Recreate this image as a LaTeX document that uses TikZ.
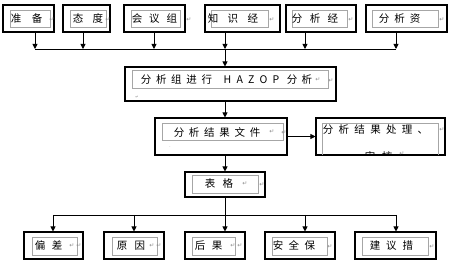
\documentclass[tikz,border=0pt]{standalone}
\usepackage{fontspec}
\setmainfont{Noto Sans CJK SC}
\newfontfamily\symf{DejaVu Sans}
\usetikzlibrary{arrows.meta}
\newcommand\gp[1]{\hspace{#1pt}}
\begin{document}
\begin{tikzpicture}[x=1pt,y=-1pt,
  obox/.style={draw=black, line width=1.05pt, inner sep=0pt},
  ibox/.style={draw=black!35, line width=0.8pt},
  txt/.style={inner sep=0pt, font=\fontsize{10.5}{12}\selectfont},
  pm/.style={inner sep=0pt, text=black!45, font=\symf\fontsize{6}{7}\selectfont},
  arr/.style={-{Triangle[length=5pt,width=5pt]}, line width=0.9pt},
  ln/.style={line width=0.9pt}]
\useasboundingbox (0,0) rectangle (450,261);
% ---------- top row ----------
\node[obox, minimum width=51, minimum height=27] (a1) at (28.5,18.5) {};
\node[obox, minimum width=47, minimum height=27] (a2) at (86.5,18.5) {};
\node[obox, minimum width=61, minimum height=27] (a3) at (154.5,18.5) {};
\node[obox, minimum width=75, minimum height=27] (a4) at (242.5,18.5) {};
\node[obox, minimum width=70, minimum height=27] (a5) at (321,18.5) {};
\node[obox, minimum width=81, minimum height=27] (a6) at (406.5,18.5) {};
\draw[ibox] (10,10) rectangle (50,27);
\draw[ibox] (70,10) rectangle (106,27);
\draw[ibox] (131,10) rectangle (180,27);
\draw[ibox] (211,10) rectangle (268,27);
\draw[ibox] (292,10) rectangle (347,27);
\draw[ibox] (372,10) rectangle (438,27);
\node[txt] (t1) at (26.5,18.5) {准\gp{10.5}备};
\node[txt] (t2) at (88,18.5) {态\gp{9.5}度};
\node[txt] (t3) at (154.5,18.5) {会\gp{7}议\gp{7}组};
\node[txt] (t4) at (233,18.5) {知\gp{9.5}识\gp{9.5}经};
\node[txt] (t5) at (315,18.5) {分\gp{7.5}析\gp{7.5}经};
\node[txt] (t6) at (399.5,18.5) {分\gp{5}析\gp{5}资};
\node[pm] (m1) at (52,20) {↵};
\node[pm] (m2) at (108,20) {↵};
\node[pm] (m3) at (189,20) {↵};
\node[pm] (m4) at (272,20) {↵};
\node[pm] (m5) at (351,20) {↵};
\node[pm] (m6) at (442,20) {↵};
% top bus
\coordinate (u1) at (35,49);
\coordinate (u2) at (83,49);
\coordinate (u3) at (154,49);
\coordinate (u4) at (225,49);
\coordinate (u5) at (305,49);
\coordinate (u6) at (396,49);
\foreach \i in {1,...,6} {\draw[arr] (u\i |- a\i.south) -- (u\i);}
\draw[ln] (u1) -- (u6);
% ---------- HAZOP ----------
\node[obox, minimum width=211, minimum height=34] (h) at (230.5,84) {};
\draw[ibox] (132,70) rectangle (328,88);
\node[txt] (h1) at (176.5,79.5) {分\gp{4.7}析\gp{4.7}组\gp{4.7}进\gp{4.7}行};
\node[txt] (h2) at (251.5,79.5) {H\gp{5.2}A\gp{5.2}Z\gp{5.2}O\gp{5.2}P};
\node[txt] (h3) at (299.5,79.5) {分\gp{4.5}析};
\node[pm] (hm1) at (318,80) {↵};
\node[pm] (hm2) at (331,81) {↵};
\node[pm, font=\symf\fontsize{4}{5}\selectfont] (hm3) at (137,97) {↵};
\draw[arr] (u4) -- (u4 |- h.north);
% ---------- result file ----------
\node[obox, minimum width=132, minimum height=37] (f) at (221,136.5) {};
\draw[ibox] (162,123) rectangle (283,140);
\node[txt] (f1) at (217,132) {分\gp{4.7}析\gp{4.7}结\gp{4.7}果\gp{4.7}文\gp{4.7}件};
\node[pm] (fm1) at (272,132) {↵};
\node[pm] (fm2) at (284,133) {↵};
\node[pm, font=\symf\fontsize{4}{5}\selectfont] (fm3) at (170,147) {.};
\draw[arr] (h.south -| u4) -- (f.north -| u4);
% ---------- result processing ----------
\node[obox, minimum width=129, minimum height=37] (p) at (380.5,136.5) {};
\begin{scope}
\clip (316.5,118.5) rectangle (444.5,154.5);
\draw[ibox] (322,123) rectangle (438,160);
\node[txt] (p1) at (375.5,129.5) {分\gp{5.3}析\gp{5.3}结\gp{5.3}果\gp{5.3}处\gp{5.3}理\gp{5.3}、};
\node[txt] (p2) at (378.5,156) {审\gp{6.5}核};
\node[pm] (pm2) at (402,154) {↵};
\end{scope}
\node[pm] (pm1) at (442,130) {↵};
\draw[arr] (f.east) -- (p.west);
% ---------- table ----------
\node[obox, minimum width=80, minimum height=25] (g) at (225,184.5) {};
\draw[ibox] (192,175) rectangle (258,193);
\node[txt] (g1) at (219,184) {表\gp{7.5}格};
\node[pm] (gm1) at (245,184) {↵};
\node[pm] (gm2) at (262,185) {↵};
\draw[arr] (f.south -| u4) -- (g.north);
% ---------- bottom row ----------
\node[obox, minimum width=59, minimum height=27] (b1) at (53.5,245.5) {};
\node[obox, minimum width=60, minimum height=27] (b2) at (134,245.5) {};
\node[obox, minimum width=60, minimum height=27] (b3) at (215,245.5) {};
\node[obox, minimum width=70, minimum height=27] (b4) at (300,245.5) {};
\node[obox, minimum width=81, minimum height=27] (b5) at (395.5,245.5) {};
\draw[ibox] (32,237) rectangle (77,255);
\draw[ibox] (112,237) rectangle (157,255);
\draw[ibox] (192,237) rectangle (235,255);
\draw[ibox] (272,237) rectangle (327,255);
\draw[ibox] (362,237) rectangle (428,255);
\node[txt] (s1) at (48.5,245.5) {偏\gp{6.5}差};
\node[txt] (s2) at (131,245.5) {原\gp{7.5}因};
\node[txt] (s3) at (208.5,245.5) {后\gp{6.5}果};
\node[txt] (s4) at (294,245.5) {安\gp{5.5}全\gp{5.5}保};
\node[txt] (s5) at (391.5,245.5) {建\gp{6}议\gp{6}措};
\node[pm] (n1a) at (72,246) {↵};
\node[pm] (n1b) at (79,246) {↵};
\node[pm] (n2a) at (152,246) {↵};
\node[pm] (n2b) at (159,246) {↵};
\node[pm] (n3a) at (233,246) {↵};
\node[pm] (n3b) at (240,246) {↵};
\node[pm] (n4) at (330,247) {↵};
\node[pm] (n5) at (432,247) {↵};
% bottom bus
\coordinate (v1) at (53,215);
\coordinate (v2) at (134,215);
\coordinate (v3) at (225,215);
\coordinate (v4) at (305,215);
\coordinate (v5) at (396,215);
\draw[ln] (g.south) -- (v3);
\draw[ln] (v1) -- (v5);
\foreach \i in {1,...,5} {\draw[arr] (v\i) -- (v\i |- b\i.north);}
\end{tikzpicture}
\end{document}
